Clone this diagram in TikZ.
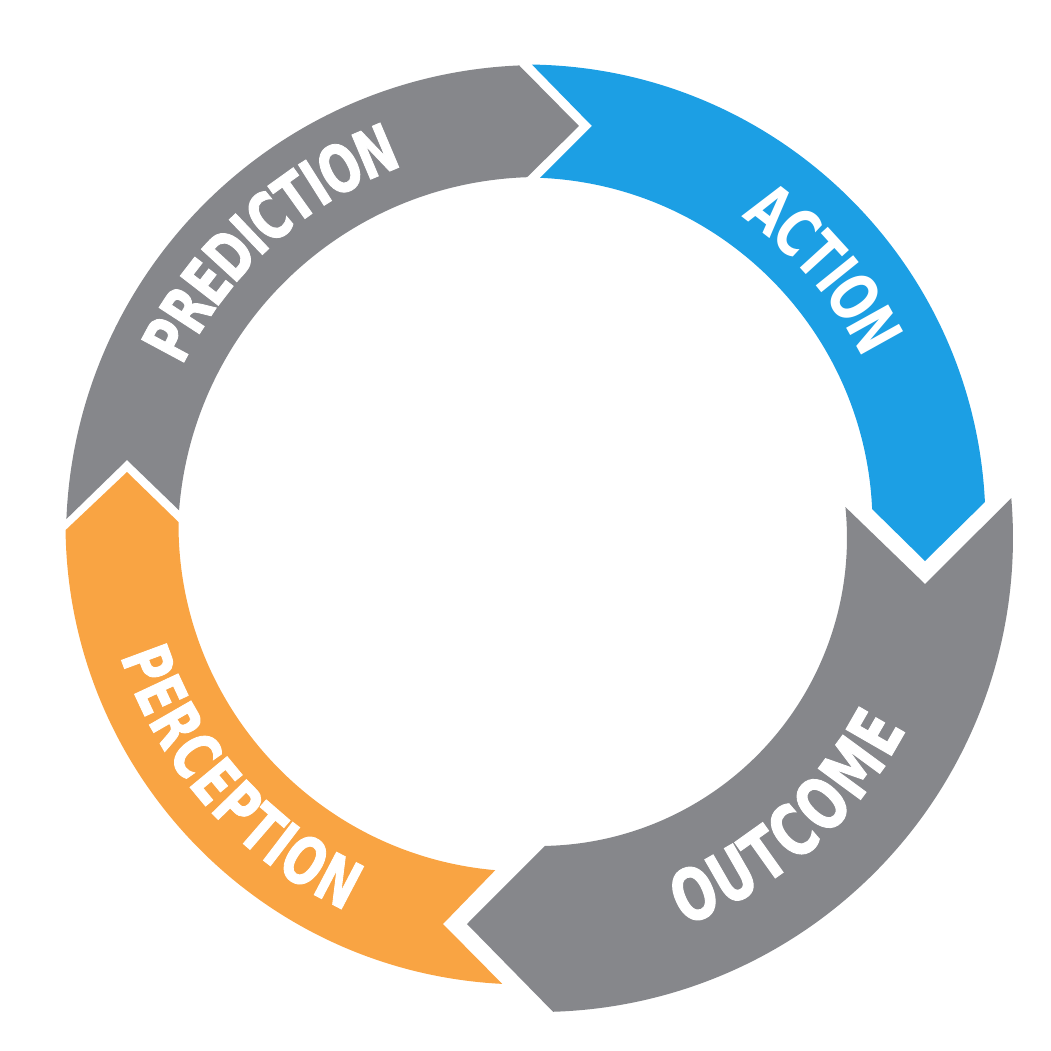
\documentclass[tikz,border=0pt]{standalone}
\usepackage{fontspec}
\usetikzlibrary{decorations.text}
\newfontfamily\cyclefont{DejaVu Sans}[FakeStretch=0.71]
\newfontfamily\cycleheavy{DejaVu Sans}[FakeStretch=0.71,FakeBold=1.3]
\definecolor{cyclegrey}{HTML}{86878B}
\definecolor{cycleblue}{HTML}{1C9FE4}
\definecolor{cycleorange}{HTML}{F9A443}

\begin{document}
\begin{tikzpicture}[x=0.5pt,y=0.5pt,
    cyclelabel/.style={decorate,decoration={text along path,text align=center,raise=-12pt,text={#1}}}]
      \useasboundingbox (-539,-513) rectangle (512,538);
      % prediction
      \fill[cyclegrey] (177.7:473) arc[start angle=177.7,end angle=92.4,radius=473]
        -- (40,412) -- (91.9:361) arc[start angle=91.9,end angle=175.6,radius=361]
        -- (-412,78) -- cycle;
      % outcome
      \fill[cyclegrey] (4.83:474) arc[start angle=4.83,end angle=-88.3,radius=474]
        -- (-72,-386) -- (-88.88:308) arc[start angle=-88.88,end angle=5.77,radius=308]
        -- (386,-46) -- cycle;
      \path[cyclelabel={|\cycleheavy\bfseries\fontsize{33}{33}\selectfont\color{white}|PREDICTION}]
        (172.2:420) arc[start angle=172.2,end angle=92.2,radius=420];
      \path[cyclelabel={|\cycleheavy\bfseries\fontsize{36}{36}\selectfont\color{white}|OUTCOME},
        decoration={raise=-13pt}]
        (-88.5:388) arc[start angle=-88.5,end angle=-8.5,radius=388];
      \begin{scope}[shift={(-13.5,13.5)}]
        % action
        \fill[cycleblue] (89.2:460) arc[start angle=89.2,end angle=2.8,radius=460]
          -- (399.5,-36.5) -- (2.55:347) arc[start angle=2.55,end angle=87.6,radius=347]
          -- (66.5,398.5) -- cycle;
        % perception
        \fill[cycleorange] (180.7:460) arc[start angle=180.7,end angle=267.1,radius=460]
          -- (-82.5,-399.5) -- (265:347) arc[start angle=265,end angle=179.6,radius=347]
          -- (-398.5,52.5) -- cycle;
        \path[cyclelabel={|\cyclefont\bfseries\fontsize{33}{33}\selectfont\color{white}|ACTION}]
          (80.5:400) arc[start angle=80.5,end angle=0.5,radius=400];
        \path[cyclelabel={|\cycleheavy\bfseries\fontsize{33}{33}\selectfont\color{white}|PERCEPTION}]
          (181.5:402) arc[start angle=181.5,end angle=261.5,radius=402];
      \end{scope}
    \end{tikzpicture}
\end{document}
